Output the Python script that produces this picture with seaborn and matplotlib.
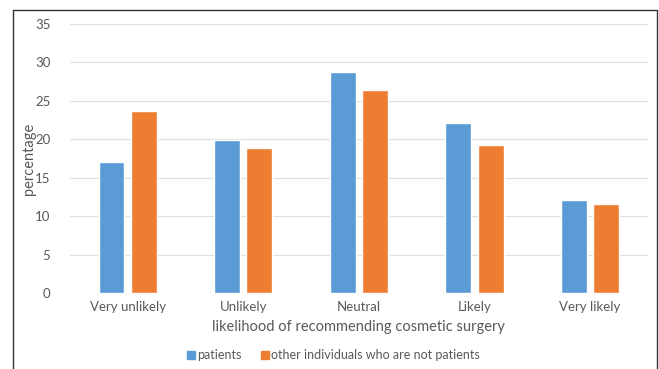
import matplotlib
matplotlib.use("Agg")
import matplotlib.pyplot as plt
import seaborn as sns
import pandas as pd
from matplotlib.lines import Line2D

categories = ["Very unlikely", "Unlikely", "Neutral", "Likely", "Very likely"]
patients = [17.0, 19.9, 28.7, 22.1, 12.1]
others = [23.7, 18.8, 26.4, 19.3, 11.6]
series_names = ["patients", "other individuals who are not patients"]
yticks = [0, 5, 10, 15, 20, 25, 30, 35]

df = pd.DataFrame({
    "category": categories * 2,
    "value": patients + others,
    "group": [series_names[0]] * len(categories) + [series_names[1]] * len(categories),
})

sns.set_theme(style="white")
plt.rcParams["font.family"] = ["Lato", "DejaVu Sans"]
text_color = "#595959"

fig = plt.figure(figsize=(6.59, 3.69), dpi=100)
ax = fig.add_axes([0.106, 0.206, 0.877, 0.729])

palette = {series_names[0]: "#5B9BD5", series_names[1]: "#ED7D31"}
sns.barplot(data=df, x="category", y="value", hue="group", order=categories,
            hue_order=series_names, palette=palette, width=0.56, gap=0.2,
            saturation=1, ax=ax, legend=False, zorder=3)

ax.set_ylim(0, 35)
ax.set_xlim(-0.5, 4.5)
ax.set_yticks(yticks)
ax.set_yticklabels([str(t) for t in yticks])
ax.grid(axis="y", color="#E0E0E0", linewidth=0.9, zorder=0)
ax.set_axisbelow(True)
for s in ax.spines.values():
    s.set_visible(False)
ax.tick_params(axis="both", length=0, labelsize=9.5, colors=text_color, pad=6)
ax.tick_params(axis="y", pad=14)
ax.set_xlabel("likelihood of recommending cosmetic surgery", fontsize=10.5,
              color=text_color, labelpad=5)
ax.set_ylabel("percentage", fontsize=10.5, color=text_color, labelpad=-1)

handles = [Line2D([0], [0], marker="s", linestyle="none", markersize=6,
                  markerfacecolor=palette[n], markeredgecolor=palette[n]) for n in series_names]
fig.legend(handles, series_names, loc="center", bbox_to_anchor=(0.505, 0.038), ncol=2,
           frameon=False, fontsize=9, labelcolor=text_color, handletextpad=0.1,
           columnspacing=1.5, handlelength=0.8)

# figure border (left, top, right)
for xs, ys in [([13/659, 13/659], [0, 1-10/369]),
               ([13/659, 657/659], [1-10/369, 1-10/369]),
               ([657/659, 657/659], [0, 1-10/369])]:
    fig.add_artist(Line2D(xs, ys, color="#333333", linewidth=1.0, transform=fig.transFigure))

fig.savefig("out.png", dpi=100, facecolor="white")
